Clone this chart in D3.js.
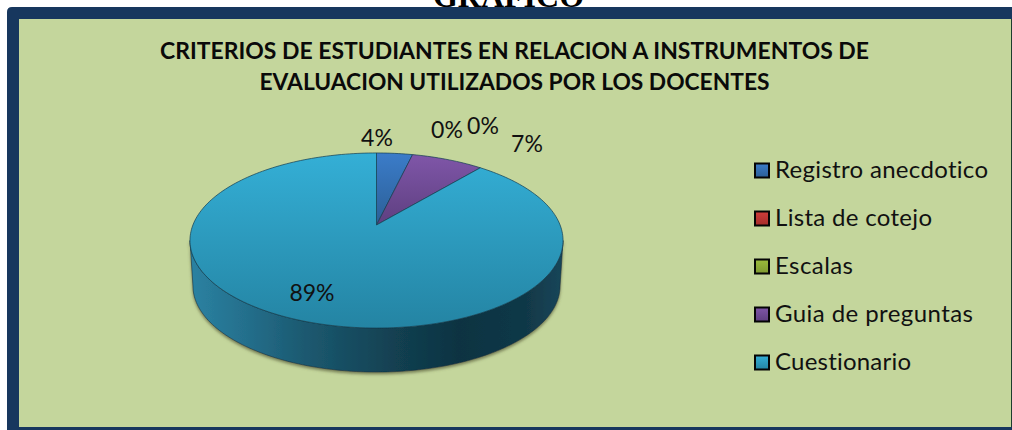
<!DOCTYPE html>
<html><head><meta charset="utf-8">
<script src="https://cdn.jsdelivr.net/npm/d3@7"></script>
<style>html,body{margin:0;padding:0;background:#fff;overflow:hidden}svg{display:block}text{font-family:Lato,"Open Sans",sans-serif;font-variant-ligatures:none}</style>
</head><body><svg id="c" width="1012" height="430"></svg>
<script>
const categories = ["Registro anecdotico","Lista de cotejo","Escalas","Guia de preguntas","Cuestionario"];
const values = [3.7,0,0,7.4,88.9];
const percentLabels = ["4%","0%","0%","7%","89%"];
const titleLines = ["CRITERIOS DE ESTUDIANTES EN RELACION A INSTRUMENTOS DE","EVALUACION UTILIZADOS POR LOS DOCENTES"];
const heading = "GRAFICO";
const colorsTop = ["#3b7cc9","#cf3d3a","#9bbb3c","#7f56a8","#34afd6"];
const colorsBottom = ["#2b5f96","#a52d2b","#7f9a30","#5e3f80","#2484a3"];

const svg = d3.select("#c");
const defs = svg.append("defs");
const grad = (id,x2,y2,stops,user)=>{
  const g = defs.append("linearGradient").attr("id",id).attr("x1",user?user[0]:0).attr("y1",user?user[1]:0).attr("x2",x2).attr("y2",y2);
  if(user) g.attr("gradientUnits","userSpaceOnUse");
  stops.forEach(s=>g.append("stop").attr("offset",s[0]).attr("stop-color",s[1]));
};
colorsTop.forEach((c,i)=>{
  grad("s"+i,0,1,[[0,c],[1,colorsBottom[i]]]);
});
grad("side",563,0,[[0,"#2b82a2"],[0.15,"#246f8c"],[0.3,"#1c5a71"],[0.55,"#124051"],[0.72,"#0e3342"],[0.9,"#113847"],[1,"#16465a"]],[190,0]);
const f = defs.append("filter").attr("id","sh").attr("x","-5%").attr("y","-5%").attr("width","110%").attr("height","115%");
f.append("feGaussianBlur").attr("in","SourceAlpha").attr("stdDeviation",1.6).attr("result","b");
f.append("feOffset").attr("in","b").attr("dy",1.5).attr("result","o");
f.append("feFlood").attr("flood-color","#5a5f3c").attr("flood-opacity",0.75);
f.append("feComposite").attr("in2","o").attr("operator","in");
const fm = f.append("feMerge"); fm.append("feMergeNode"); fm.append("feMergeNode").attr("in","SourceGraphic");

// heading, clipped by the frame
svg.append("text").text(heading).attr("x",508.5).attr("y",7).attr("text-anchor","middle")
  .style("font-family","'Liberation Serif',serif").style("font-weight",700).style("font-size","32px")
  .attr("textLength",151).attr("lengthAdjust","spacingAndGlyphs").attr("fill","#000");

// frame
svg.append("path").attr("fill","#17375e").attr("d","M7,430V12Q7,7 12,7H1012V430Z");
svg.append("rect").attr("x",19).attr("y",19).attr("width",992).attr("height",408).attr("fill","#c4d69c");
svg.append("rect").attr("x",1011).attr("y",19).attr("width",1).attr("height",408).attr("fill","#1d3d2e");

// title
titleLines.forEach((t,i)=>svg.append("text").text(t).attr("x",514.5).attr("y",[59,90][i]).attr("text-anchor","middle")
  .style("font-weight",700).style("font-size","22.5px").attr("fill","#0a0a0a")
  .attr("textLength",[709,510][i]).attr("lengthAdjust","spacingAndGlyphs"));

// perspective pie
const P = 0.177, A = 183.6, B = 84.8, CX = 376.5, CY = 225;
const project = (t,dy=0,s=1)=>{
  const X=Math.sin(t), Y=Math.cos(t), w=1+P*Y;
  return [CX+s*A*X/w, CY+dy-s*B*Y/w];
};
const pie = d3.pie().sort(null).value(d=>d)(values);
const line = d3.line();
const steps = (a,b,n)=>d3.range(n+1).map(i=>a+(b-a)*i/n);

// side wall
const tL = Math.PI+Math.acos(P), tR = Math.PI-Math.acos(P);
const frontTop = steps(tR,tL,120).map(t=>project(t));
const sS = 0.984, baseDy = 44 + 103*(1-sS);
const frontBase = steps(tL,tR,120).map(t=>project(t,baseDy,sS));
const sideEdge = [...frontTop,...frontBase];
svg.append("path").attr("d",line(sideEdge)+"Z").attr("fill","url(#side)").attr("stroke","#0f3342").attr("stroke-width",0.6).attr("filter","url(#sh)");

// top face
svg.selectAll("path.slice").data(pie).join("path").attr("class","slice")
  .filter(d=>d.value>0)
  .attr("d",d=>{
    const pts = steps(d.startAngle,d.endAngle,Math.max(2,Math.ceil((d.endAngle-d.startAngle)*40))).map(t=>project(t));
    return line([[CX,CY],...pts])+"Z";
  })
  .attr("fill",d=>"url(#s"+d.index+")").attr("stroke","#123c50").attr("stroke-width",0.7);

// labels
const labelPos = [[377,146],[447,138],[483,134],[527,152],[312,301]];
svg.selectAll("text.lab").data(percentLabels).join("text").attr("class","lab")
  .text(d=>d).attr("x",(d,i)=>labelPos[i][0]).attr("y",(d,i)=>labelPos[i][1]).attr("text-anchor","middle")
  .style("font-size","23px").attr("fill","#111");

// legend
const ly = d3.scalePoint().domain(categories).range([170.5,362.5]);
const widths = [213,157,78,198,136];
const lg = svg.selectAll("g.lg").data(categories).join("g").attr("class","lg").attr("transform",d=>`translate(754,${ly(d)})`);
lg.append("rect").attr("x",1).attr("y",-7).attr("width",14).attr("height",14)
  .attr("fill",(d,i)=>`url(#s${i})`).attr("stroke","#050505").attr("stroke-width",2);
lg.append("text").text(d=>d).attr("x",21).attr("y",7.5).style("font-size","24px").attr("fill","#111")
  .attr("textLength",(d,i)=>widths[i]).attr("lengthAdjust","spacing");
</script></body></html>
